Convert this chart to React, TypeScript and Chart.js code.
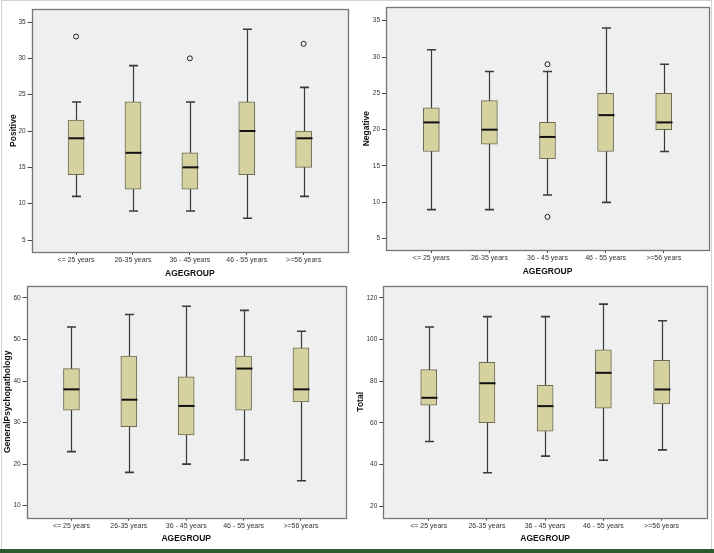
import React, { useEffect, useRef } from "react";
import { Chart, registerables } from "chart.js";

Chart.register(...registerables);

// ---------- data ----------
const categories = ["<= 25 years", "26-35 years", "36 - 45 years", "46 - 55 years", ">=56 years"];
const xAxisTitle = "AGEGROUP";

const positiveMin = [11, 9, 9, 8, 11];
const positiveQ1 = [14, 12, 12, 14, 15];
const positiveMedian = [19, 17, 15, 20, 19];
const positiveQ3 = [21.5, 24, 17, 24, 20];
const positiveMax = [24, 29, 24, 34, 26];
const positiveOutliers = [[33], [], [30], [], [32]];

const negativeMin = [9, 9, 11, 10, 17];
const negativeQ1 = [17, 18, 16, 17, 20];
const negativeMedian = [21, 20, 19, 22, 21];
const negativeQ3 = [23, 24, 21, 25, 25];
const negativeMax = [31, 28, 28, 34, 29];
const negativeOutliers = [[], [], [29, 8], [], []];

const generalMin = [23, 18, 20, 21, 16];
const generalQ1 = [33, 29, 27, 33, 35];
const generalMedian = [38, 35.5, 34, 43, 38];
const generalQ3 = [43, 46, 41, 46, 48];
const generalMax = [53, 56, 58, 57, 52];
const generalOutliers = [[], [], [], [], []];

const totalMin = [51, 36, 44, 42, 47];
const totalQ1 = [68.5, 60, 56, 67, 69];
const totalMedian = [72, 79, 68, 84, 76];
const totalQ3 = [85.5, 89, 78, 95, 90];
const totalMax = [106, 111, 111, 117, 109];
const totalOutliers = [[], [], [], [], []];

// ---------- styles ----------
const FONT = "'Liberation Sans', Arial, sans-serif";
const PLOT_BG = "#efefef";
const FRAME = "#767676";
const BOX_FILL = "#d6d2a0";
const BOX_BORDER = "#6c6b55";
const WHISKER = "#3a3a3a";
const XMIN = 0.22;
const XMAX = 5.78;
const TITLE_SIZE = 8.5;

type PanelDef = {
  title: string;
  min: number[];
  q1: number[];
  median: number[];
  q3: number[];
  max: number[];
  outliers: number[][];
  yMin: number;
  yMax: number;
  step: number;
  left: number;
  top: number;
  w: number;
  h: number;
  pad: { left: number; right: number; top: number; bottom: number };
  yw: number;
  xh: number;
};

const panels: PanelDef[] = [
  {
    title: "Positive", min: positiveMin, q1: positiveQ1, median: positiveMedian, q3: positiveQ3, max: positiveMax, outliers: positiveOutliers,
    yMin: 3.35, yMax: 36.75, step: 5,
    left: 0, top: 0, w: 357, h: 280,
    pad: { left: 8.9, right: 9, top: 9.3, bottom: 0.9 }, yw: 22.8, xh: 27.1,
  },
  {
    title: "Negative", min: negativeMin, q1: negativeQ1, median: negativeMedian, q3: negativeQ3, max: negativeMax, outliers: negativeOutliers,
    yMin: 3.44, yMax: 36.84, step: 5,
    left: 357, top: 0, w: 357, h: 280,
    pad: { left: 4.8, right: 5, top: 7.3, bottom: 3.2 }, yw: 24.2, xh: 26.8,
  },
  {
    title: "GeneralPsychopathology", min: generalMin, q1: generalQ1, median: generalMedian, q3: generalQ3, max: generalMax, outliers: generalOutliers,
    yMin: 7.1, yMax: 62.9, step: 10,
    left: 0, top: 280, w: 357, h: 268,
    pad: { left: 2.9, right: 11.3, top: 5, bottom: 4.6 }, yw: 23.8, xh: 25.7,
  },
  {
    title: "Total", min: totalMin, q1: totalQ1, median: totalMedian, q3: totalQ3, max: totalMax, outliers: totalOutliers,
    yMin: 14.4, yMax: 125.75, step: 20,
    left: 352, top: 280, w: 362, h: 268,
    pad: { left: 3.9, right: 7, top: 5, bottom: 4.6 }, yw: 27.4, xh: 25.7,
  },
];

function makeBoxPlugin(p: PanelDef) {
  return {
    id: "boxExtras",
    beforeDraw(chart: any) {
      const { ctx, chartArea: a } = chart;
      ctx.save();
      ctx.fillStyle = PLOT_BG;
      ctx.fillRect(a.left, a.top, a.right - a.left, a.bottom - a.top);
      ctx.restore();
    },
    beforeDatasetsDraw(chart: any) {
      const { ctx } = chart;
      const xs = chart.scales.x;
      const ys = chart.scales.y;
      ctx.save();
      ctx.strokeStyle = WHISKER;
      categories.forEach((_, i) => {
        const x = Math.round(xs.getPixelForValue(i + 1)) + 0.5;
        const yLo = ys.getPixelForValue(p.min[i]);
        const yHi = ys.getPixelForValue(p.max[i]);
        ctx.lineWidth = 1.2;
        ctx.beginPath();
        ctx.moveTo(x, yLo);
        ctx.lineTo(x, yHi);
        ctx.stroke();
        ctx.lineWidth = 1.6;
        ctx.beginPath();
        ctx.moveTo(x - 4.5, yLo);
        ctx.lineTo(x + 4.5, yLo);
        ctx.moveTo(x - 4.5, yHi);
        ctx.lineTo(x + 4.5, yHi);
        ctx.stroke();
      });
      ctx.restore();
    },
    afterDatasetsDraw(chart: any) {
      const { ctx, chartArea: a } = chart;
      const xs = chart.scales.x;
      const ys = chart.scales.y;
      ctx.save();
      ctx.strokeStyle = "#111";
      ctx.lineWidth = 2;
      categories.forEach((_, i) => {
        const x = Math.round(xs.getPixelForValue(i + 1)) + 0.5;
        const y = ys.getPixelForValue(p.median[i]);
        ctx.beginPath();
        ctx.moveTo(x - 8, y);
        ctx.lineTo(x + 8, y);
        ctx.stroke();
      });
      ctx.strokeStyle = FRAME;
      ctx.lineWidth = 1.3;
      ctx.strokeRect(Math.round(a.left) + 0.5, Math.round(a.top) + 0.5, Math.round(a.right - a.left), Math.round(a.bottom - a.top));
      ctx.restore();
    },
  };
}

function Panel({ p }: { p: PanelDef }) {
  const ref = useRef<HTMLCanvasElement | null>(null);
  useEffect(() => {
    if (!ref.current) return;
    const boxData = categories.map((_, i) => ({ x: i + 1, y: [p.q1[i], p.q3[i]] }));
    const outData: { x: number; y: number }[] = [];
    p.outliers.forEach((arr, i) => arr.forEach((v) => outData.push({ x: i + 1, y: v })));
    const chart = new Chart(ref.current, {
      type: "bar",
      data: {
        datasets: [
          {
            type: "bar",
            data: boxData as any,
            backgroundColor: BOX_FILL,
            borderColor: BOX_BORDER,
            borderWidth: 1,
            borderSkipped: false,
            barThickness: 16,
          } as any,
          {
            type: "scatter",
            data: outData as any,
            pointRadius: 2.5,
            pointStyle: "circle",
            borderColor: "#222",
            borderWidth: 1,
            backgroundColor: "rgba(0,0,0,0)",
          } as any,
        ],
      },
      options: {
        responsive: false,
        animation: false,
        devicePixelRatio: 1,
        layout: { padding: p.pad },
        plugins: { legend: { display: false }, tooltip: { enabled: false } },
        scales: {
          x: {
            type: "linear",
            min: XMIN,
            max: XMAX,
            offset: false,
            afterBuildTicks: (scale: any) => {
              scale.ticks = categories.map((_, i) => ({ value: i + 1 }));
            },
            afterFit: (scale: any) => {
              scale.height = p.xh;
            },
            ticks: {
              autoSkip: false,
              maxRotation: 0,
              padding: 1,
              color: "#333",
              font: { family: FONT, size: 7 },
              callback: (v: any) => categories[Math.round(Number(v)) - 1] ?? "",
            },
            grid: { drawOnChartArea: false, offset: false, tickLength: 3, color: "#444" },
            border: { display: false },
            title: {
              display: true,
              text: xAxisTitle,
              color: "#111",
              padding: 0,
              font: { family: FONT, size: TITLE_SIZE, weight: "bold" },
            },
          },
          y: {
            type: "linear",
            min: p.yMin,
            max: p.yMax,
            beginAtZero: false,
            afterFit: (scale: any) => {
              scale.width = p.yw;
            },
            ticks: {
              stepSize: p.step,
              includeBounds: false,
              padding: 2,
              color: "#333",
              font: { family: FONT, size: 6.5 },
            },
            grid: { drawOnChartArea: false, tickLength: 4, color: "#444" },
            border: { display: false },
            title: {
              display: true,
              text: p.title,
              color: "#111",
              padding: 0,
              font: { family: FONT, size: TITLE_SIZE, weight: "bold" },
            },
          },
        },
      } as any,
      plugins: [makeBoxPlugin(p)],
    });
    return () => chart.destroy();
  }, [p]);
  return (
    <canvas
      ref={ref}
      width={p.w}
      height={p.h}
      style={{ position: "absolute", left: p.left, top: p.top, width: p.w, height: p.h }}
    />
  );
}

export default function App() {
  return (
    <div
      style={{
        position: "fixed",
        left: 0,
        top: 0,
        width: 714,
        height: 553,
        background: "#ffffff",
        overflow: "hidden",
      }}
    >
      <div
        style={{
          position: "absolute",
          left: 1,
          top: 0,
          width: 711,
          height: 549,
          border: "1px solid #cdd5cd",
          borderBottom: "none",
          boxSizing: "border-box",
        }}
      />
      {panels.map((p, i) => (
        <Panel key={i} p={p} />
      ))}
      <div style={{ position: "absolute", left: 0, top: 549, width: 714, height: 4, background: "#2e5a33" }} />
    </div>
  );
}
